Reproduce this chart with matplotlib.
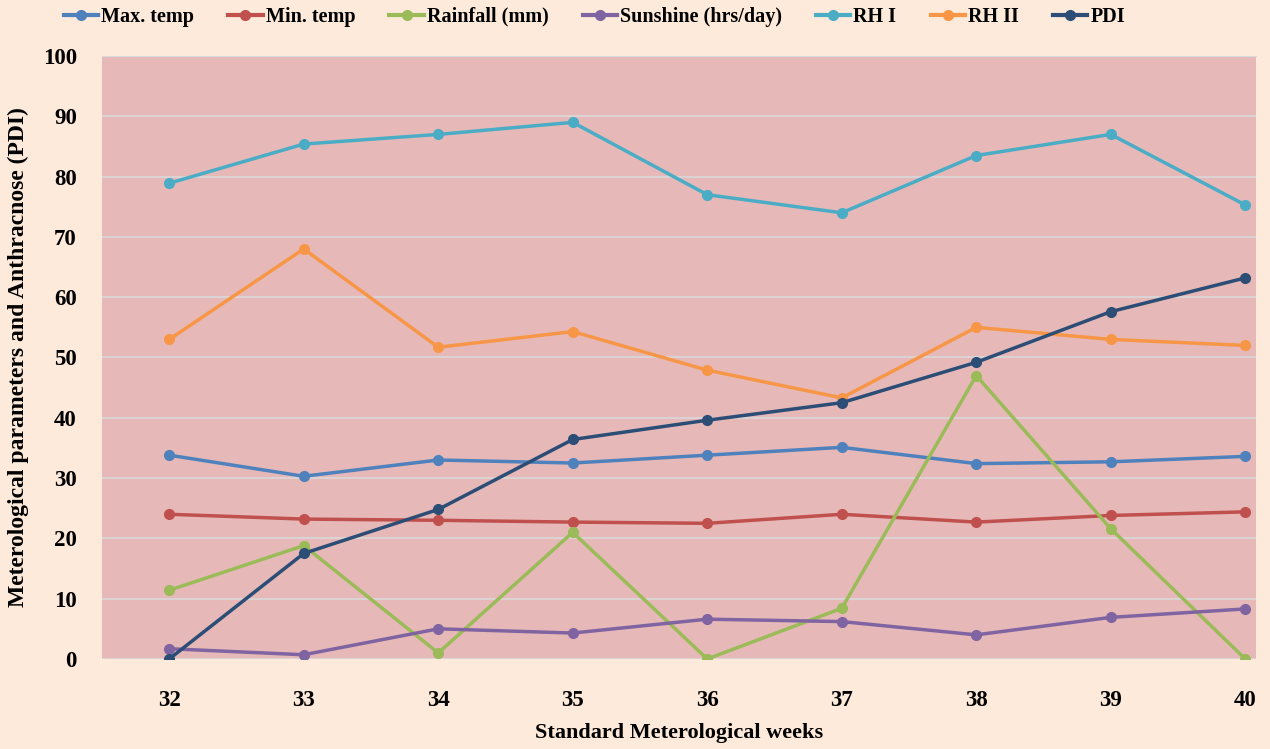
import matplotlib.pyplot as plt
from matplotlib.lines import Line2D

plt.rcParams['font.family'] = ['Liberation Serif', 'DejaVu Serif']

weeks = [32, 33, 34, 35, 36, 37, 38, 39, 40]
max_temp = [33.8, 30.3, 33.0, 32.5, 33.8, 35.1, 32.4, 32.7, 33.6]
min_temp = [24.0, 23.2, 23.0, 22.7, 22.5, 24.0, 22.7, 23.8, 24.4]
rainfall = [11.4, 18.8, 1.0, 21.0, 0.0, 8.4, 47.0, 21.6, 0.0]
sunshine = [1.7, 0.7, 5.0, 4.3, 6.6, 6.2, 4.0, 6.9, 8.3]
rh1 = [78.9, 85.4, 87.0, 89.0, 77.0, 74.0, 83.5, 87.0, 75.3]
rh2 = [53.0, 68.0, 51.7, 54.3, 47.9, 43.3, 55.0, 53.0, 52.0]
pdi = [0.0, 17.5, 24.8, 36.4, 39.6, 42.5, 49.2, 57.6, 63.2]

series = [
    ("Max. temp", max_temp, "#4F81BD"),
    ("Min. temp", min_temp, "#C0504D"),
    ("Rainfall (mm)", rainfall, "#9BBB59"),
    ("Sunshine (hrs/day)", sunshine, "#8064A2"),
    ("RH I", rh1, "#4BACC6"),
    ("RH II", rh2, "#F79646"),
    ("PDI", pdi, "#2C4D75"),
]

fig = plt.figure(figsize=(12.7, 7.49), dpi=100, facecolor="#FDEADA")
ax = fig.add_axes([0.0803, 0.1202, 0.9087, 0.805])
ax.set_facecolor("#E6B9B8")

handles = []
for name, vals, col in series:
    ax.plot(weeks, vals, color=col, lw=2.5, marker="o", ms=7, zorder=3)
    handles.append(Line2D([], [], color=col, lw=3, marker="o", ms=7))

ax.set_ylim(0, 100)
ax.set_xlim(31.5, 40.08)
ax.set_yticks(range(0, 101, 10))
ax.set_xticks(weeks)
ax.grid(axis="y", color="#D9D9D9", lw=1.2)
ax.set_axisbelow(True)
for s in ["left", "right", "bottom"]:
    ax.spines[s].set_visible(False)
ax.spines["top"].set_color("#D9D9D9")
ax.tick_params(length=0, labelsize=16.5)
ax.tick_params(axis="x", pad=22)
ax.tick_params(axis="y", pad=18)
for lbl in ax.get_xticklabels() + ax.get_yticklabels():
    lbl.set_fontweight("bold")

ax.set_xlabel("Standard Meterological weeks", fontsize=16, fontweight="bold", labelpad=9)
ax.set_ylabel("Meterological parameters and Anthracnose (PDI)", fontsize=17,
              fontweight="bold", labelpad=10)

fig.legend(handles, [s[0] for s in series], loc="upper left", ncol=7,
           bbox_to_anchor=(0.036, 1.015), frameon=False, handlelength=1.7,
           handletextpad=0.15, columnspacing=1.7, prop={"size": 14.5, "weight": "bold"})

fig.savefig("out.png", dpi=100, facecolor=fig.get_facecolor())
